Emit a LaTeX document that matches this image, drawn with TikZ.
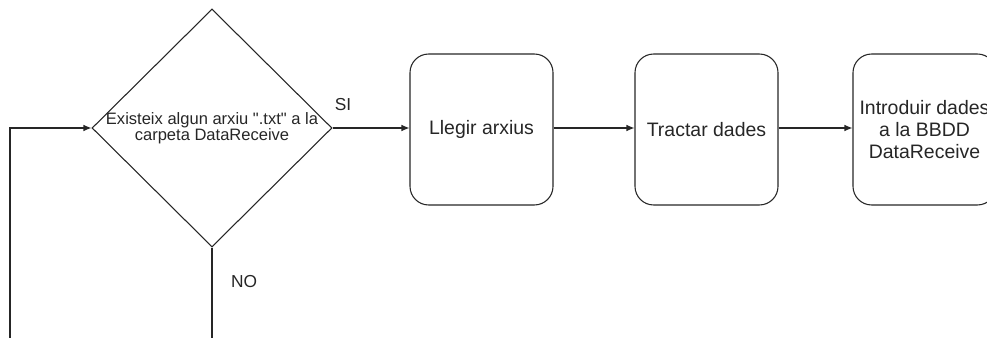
\documentclass[tikz,border=0pt]{standalone}
\usepackage{fontspec}
\setmainfont{Liberation Sans}[Ligatures=TeXOff]
\usetikzlibrary{shapes.geometric,arrows.meta}
\tikzset{
  every picture/.style={x=0.75pt,y=-0.75pt},
  line/.style={draw=black!85,line width=0.8pt},
  flow/.style={line,-{Latex[length=6pt,width=5pt]}},
  procbox/.style={line,rounded corners=14pt,minimum width=107.25pt,minimum height=113.25pt,
    inner sep=0pt,align=center,font=\fontsize{14.6}{16.5}\selectfont,text=black!85},
  decision/.style={line,diamond,minimum width=180pt,minimum height=178.5pt,inner sep=0pt},
  decisiontext/.style={align=center,inner sep=0pt,font=\fontsize{12.4}{12}\selectfont,text=black!85},
  tag/.style={inner sep=0pt,font=\fontsize{13}{14}\selectfont,text=black!85}
}
\begin{document}
\begin{tikzpicture}
  \useasboundingbox (0,0) rectangle (987,338);
  \clip (0,0) rectangle (987,338);
  % decision
  \node[decision] (dec) at (212,128) {};
  \node[decisiontext] (dectxt) at (212,128.5) {Existeix algun arxiu ".txt" a la\\carpeta DataReceive};
  % processing steps
  \node[procbox] (read) at (481.5,129.5) {Llegir arxius};
  \node[procbox] (treat) at (706.5,129.5) {Tractar dades};
  \node[procbox] (store) at (924.5,129.5) {Introduir dades\\a la BBDD\\DataReceive};
  % loop-back ends leaving the frame
  \coordinate (noend) at (212,340);
  \coordinate (loopstart) at (10,340);
  \coordinate (loopcorner) at (10,128);
  % connectors
  \draw[flow] (dec.east) -- (read.west |- dec.east);
  \draw[flow] (read.east |- dec.east) -- (treat.west |- dec.east);
  \draw[flow] (treat.east |- dec.east) -- (store.west |- dec.east);
  \draw[line] (dec.south) -- (noend);
  \draw[flow] (loopstart) -- (loopcorner) -- (dec.west);
  % labels
  \node[tag] (si) at (343,105) {SI};
  \node[tag] (no) at (244,282) {NO};
\end{tikzpicture}
\end{document}
